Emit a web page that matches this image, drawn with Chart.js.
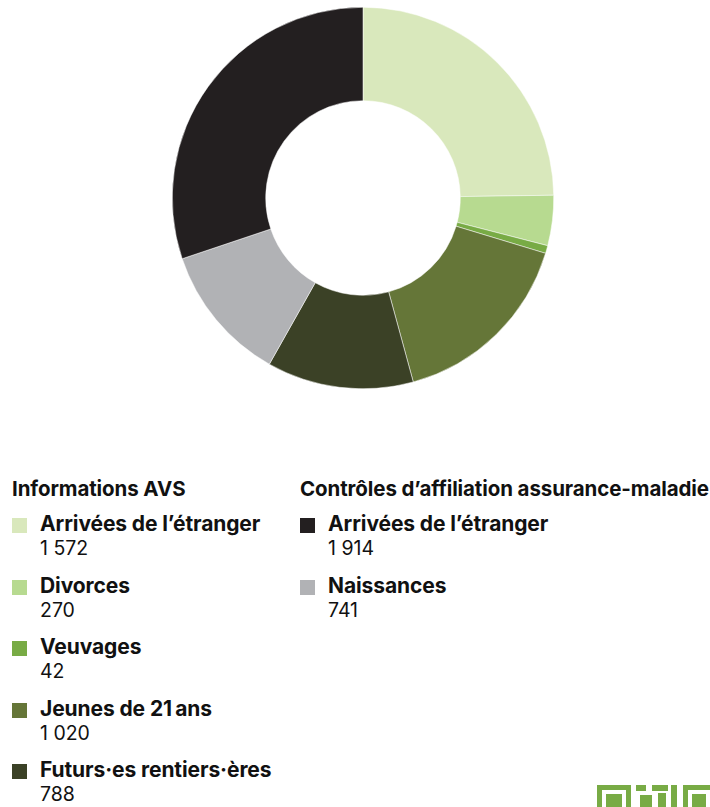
<!DOCTYPE html>
<html lang="fr">
<head>
<meta charset="utf-8">
<script src="https://cdn.jsdelivr.net/npm/chart.js@4"></script>
<style>
  body { margin: 0; width: 710px; height: 807px; background: #fff; overflow: hidden; position: relative; font-family: Inter, "Noto Sans", sans-serif; color: #111; }
  #wrap { position: absolute; left: 172px; top: 7px; width: 382px; height: 382px; }
  .titre { position: absolute; font-weight: 700; font-size: 20.5px; line-height: 24px; letter-spacing: -0.1px; white-space: nowrap; }
  .item { position: absolute; }
  .item .carre { position: absolute; left: 0; top: 4px; width: 15px; height: 15px; }
  .item .lib { position: absolute; left: 28px; top: -2px; font-weight: 700; font-size: 21px; line-height: 24px; white-space: nowrap; letter-spacing: -0.1px; }
  .item .val { position: absolute; left: 28px; top: 23px; font-size: 19.5px; line-height: 22px; white-space: nowrap; }
  .qr { position: absolute; background: #78ab45; }
</style>
</head>
<body>
<div id="wrap"><canvas id="grafico"></canvas></div>
<div id="legende"></div>
<script>
// Données
const categories = ["Arrivées de l’étranger", "Divorces", "Veuvages", "Jeunes de 21\u2009ans", "Futurs·es rentiers·ères", "Arrivées de l’étranger", "Naissances"];
const groupes = ["Informations AVS", "Informations AVS", "Informations AVS", "Informations AVS", "Informations AVS", "Contrôles d’affiliation assurance-maladie", "Contrôles d’affiliation assurance-maladie"];
const valeurs = [1572, 270, 42, 1020, 788, 1914, 741];
const couleurs = ["#d9e8bc", "#b7da90", "#78ab45", "#657638", "#3b4126", "#231f20", "#b1b2b5"];

// ordre des secteurs dans l'anneau (sens horaire depuis midi)
const ordre = [0, 1, 2, 3, 4, 6, 5];

function formatNombre(n) {
  return String(n).replace(/\B(?=(\d{3})+(?!\d))/g, "\u00A0");
}

const ctx = document.getElementById("grafico").getContext("2d");
new Chart(ctx, {
  type: "doughnut",
  data: {
    labels: ordre.map((i) => categories[i]),
    datasets: [
      {
        data: ordre.map((i) => valeurs[i]),
        backgroundColor: ordre.map((i) => couleurs[i]),
        borderColor: "#ffffff",
        borderWidth: 0.5,
      },
    ],
  },
  options: {
    responsive: true,
    maintainAspectRatio: true,
    aspectRatio: 1,
    animation: false,
    cutout: "51%",
    plugins: {
      legend: { display: false },
      tooltip: { enabled: false },
    },
  },
});

// Légende en HTML
function mostrarLegende() {
  const leg = document.getElementById("legende");
  const colonnes = { "Informations AVS": 12, "Contrôles d’affiliation assurance-maladie": 300 };
  const compteur = {};
  let html = "";
  Object.keys(colonnes).forEach((g) => {
    html += `<div class="titre" style="left:${colonnes[g]}px;top:477px">${g}</div>`;
    compteur[g] = 0;
  });
  categories.forEach((c, i) => {
    const g = groupes[i];
    const top = 514 + compteur[g] * 61.5;
    compteur[g]++;
    html += `<div class="item" style="left:${colonnes[g]}px;top:${top}px">
      <div class="carre" style="background:${couleurs[i]}"></div>
      <div class="lib">${c}</div>
      <div class="val">${formatNombre(valeurs[i])}</div>
    </div>`;
  });
  leg.innerHTML = html;
}
mostrarLegende();
</script>
<!-- motif décoratif en bas à droite -->
<div class="qr" style="left:597px;top:785px;width:34px;height:22px"></div>
<div class="qr" style="left:602px;top:790px;width:24px;height:17px;background:#fff"></div>
<div class="qr" style="left:606px;top:794px;width:16px;height:13px"></div>
<div class="qr" style="left:636px;top:785px;width:10px;height:6px"></div>
<div class="qr" style="left:652px;top:785px;width:16px;height:6px"></div>
<div class="qr" style="left:640px;top:795px;width:12px;height:12px"></div>
<div class="qr" style="left:658px;top:793px;width:8px;height:14px"></div>
<div class="qr" style="left:671px;top:785px;width:6px;height:22px"></div>
<div class="qr" style="left:683px;top:785px;width:27px;height:22px"></div>
<div class="qr" style="left:688px;top:790px;width:22px;height:17px;background:#fff"></div>
<div class="qr" style="left:692px;top:794px;width:14px;height:13px"></div>
</body>
</html>
